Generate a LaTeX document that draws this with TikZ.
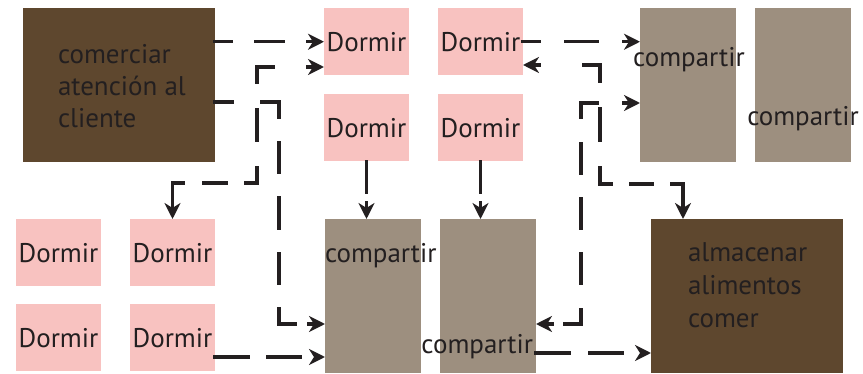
\documentclass[tikz,border=0pt]{standalone}
\usepackage{fontspec}
\setmainfont{PT Sans}
\usetikzlibrary{arrows.meta,calc}
\definecolor{brownc}{HTML}{5E472E}
\definecolor{pinkc}{HTML}{F8C2C0}
\definecolor{taupec}{HTML}{9D8F7F}
\definecolor{inkc}{HTML}{231F20}
\tikzset{
  box/.style={draw=none, inner sep=0pt, outer sep=0pt, anchor=north west},
  brownbox/.style={box, fill=brownc, minimum width=192pt, minimum height=154pt},
  pinkbox/.style={box, fill=pinkc, minimum width=85pt, minimum height=67.5pt, text=inkc, font=\fontsize{27}{31}\selectfont},
  taupebox/.style={box, fill=taupec, minimum width=96pt, minimum height=154pt},
  lbl/.style={inner sep=0pt, outer sep=0pt, text=inkc, font=\fontsize{27}{31}\selectfont},
  dline/.style={draw=inkc, line width=3.2pt, line cap=rect},
  tipend/.style={-{Stealth[length=16pt,width=16pt,inset=5pt]}}
}
% length of a segment
\newcommand\seglen[2]{%
  \path let \p1=(#1), \p2=(#2) in \pgfextra{\pgfmathparse{veclen(\x2-\x1,\y2-\y1)}\xdef\segL{\pgfmathresult}};}
% dashed segment with half dashes at both ends (aligned to corners)
\newcommand\dseg[2]{%
  \seglen{#1}{#2}%
  \pgfmathsetmacro\segN{max(1,round(\segL/52))}%
  \pgfmathsetmacro\segS{\segL/(52*\segN)}%
  \pgfmathsetmacro\segD{28*\segS}%
  \pgfmathsetmacro\segG{24*\segS}%
  \pgfmathsetmacro\segH{14*\segS}%
  \draw[dline, dash pattern=on \segD pt off \segG pt, dash phase=\segH pt] (#1) -- (#2);}
% dashed segment starting with a dash of length #1 and ending with an arrow tip
\newcommand\aseg[3][16]{%
  \seglen{#2}{#3}%
  \pgfmathsetmacro\segLp{\segL-16}%
  \pgfmathsetmacro\segK{max(0,round((\segLp-#1-24)/52))}%
  \pgfmathsetmacro\segS{(\segLp-#1)/(52*\segK+24)}%
  \pgfmathsetmacro\segD{max(#1,28*\segS)}%
  \pgfmathsetmacro\segG{max(1,24*\segS)}%
  \pgfmathsetmacro\segH{\segD-#1}%
  \draw[dline, tipend, dash pattern=on \segD pt off \segG pt, dash phase=\segH pt] (#2) -- (#3);}
\begin{document}
\begin{tikzpicture}[x=1pt,y=-1pt]
\useasboundingbox (0,0) rectangle (863,374);
% boxes
\node[brownbox] (A) at (23,8) {};
\node[pinkbox] (P1) at (324,8) {Dormir};
\node[pinkbox] (P2) at (438,8) {Dormir};
\node[pinkbox] (P3) at (324,94) {Dormir};
\node[pinkbox] (P4) at (438,94) {Dormir};
\node[taupebox] (G1) at (640,8) {};
\node[taupebox] (G2) at (755,8) {};
\node[pinkbox] (P5) at (16,219) {Dormir};
\node[pinkbox] (P6) at (130,219) {Dormir};
\node[pinkbox] (P7) at (16,304) {Dormir};
\node[pinkbox] (P8) at (130,304) {Dormir};
\node[taupebox] (G3) at (325,219) {};
\node[taupebox] (G4) at (440,219) {};
\node[brownbox] (B) at (651,219) {};
% bend points
\coordinate (w1) at (279,102);
\coordinate (w2) at (279,324);
\coordinate (z1) at (172.5,183);
\coordinate (z2) at (257,183);
\coordinate (z3) at (257,67);
\coordinate (x1) at (600,65);
\coordinate (x2) at (600,184);
\coordinate (x3) at (683,184);
\coordinate (y1) at (581,103);
\coordinate (y2) at (581,324);
\coordinate (q1) at (0,357);
\coordinate (q2) at (0,353);
% connectors
\aseg{A.east |- P1.west}{P1.west}
\dseg{A.east |- w1}{w1}
\dseg{w1}{w2}
\aseg{w2}{G3.west |- w2}
\aseg{z1}{P6.north}
\dseg{z1}{z2}
\dseg{z2}{z3}
\aseg{z3}{P1.west |- z3}
\aseg{P2.east}{G1.west |- P2.east}
\aseg{x1}{P2.east |- x1}
\dseg{x1}{x2}
\dseg{x2}{x3}
\aseg{x3}{B.north -| x3}
\aseg{y1}{G1.west |- y1}
\dseg{y1}{y2}
\aseg{y2}{G4.east |- y2}
\aseg[31]{P3.south}{P3.south |- G3.north}
\aseg[31]{P4.south}{P4.south |- G4.north}
\aseg[33]{P8.east |- q1}{G3.west |- q1}
\aseg[33]{G4.east |- q2}{B.west |- q2}
% labels
\node[lbl, anchor=base west] (At1) at (58,64) {comerciar};
\node[lbl, anchor=base west] (At2) at (58,96) {atención al};
\node[lbl, anchor=base west] (At3) at (58,128) {cliente};
\node[lbl, anchor=base west] (Bt1) at (688,262) {almacenar};
\node[lbl, anchor=base west] (Bt2) at (688,295) {alimentos};
\node[lbl, anchor=base west] (Bt3) at (688,328) {comer};
\node[lbl, anchor=base] (G1t) at (689,67) {compartir};
\node[lbl, anchor=base] (G2t) at (803,126) {compartir};
\node[lbl, anchor=base west] (G3t) at (325,263) {compartir};
\node[lbl, anchor=base east] (G4t) at (533,353) {compartir};
\end{tikzpicture}
\end{document}
